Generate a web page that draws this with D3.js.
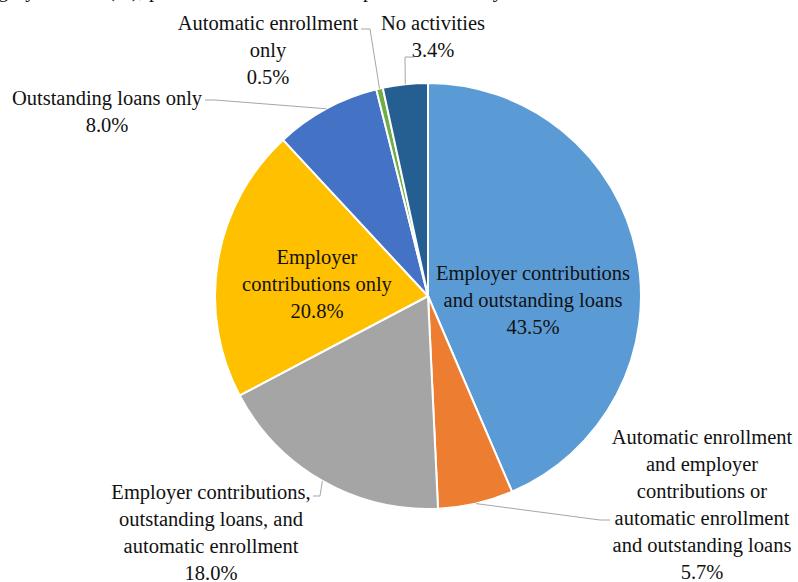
<!DOCTYPE html>
<html>
<head>
<meta charset="utf-8">
<script src="https://cdn.jsdelivr.net/npm/d3@7"></script>
<style>
  html, body { margin: 0; padding: 0; background: #fff; }
  svg { display: block; }
</style>
</head>
<body>
<svg id="chart" width="798" height="582"></svg>
<script>
// Share of plans by combination of plan activities (percent)
const categories = [
  "Employer contributions and outstanding loans",
  "Automatic enrollment and employer contributions or automatic enrollment and outstanding loans",
  "Employer contributions, outstanding loans, and automatic enrollment",
  "Employer contributions only",
  "Outstanding loans only",
  "Automatic enrollment only",
  "No activities"
];
const shares = [43.5, 5.7, 18.0, 20.8, 8.0, 0.5, 3.4];

// Wrapped label lines for each category
const labelLines = [
  ["Employer contributions", "and outstanding loans"],
  ["Automatic enrollment", "and employer", "contributions or", "automatic enrollment", "and outstanding loans"],
  ["Employer contributions,", "outstanding loans, and", "automatic enrollment"],
  ["Employer", "contributions only"],
  ["Outstanding loans only"],
  ["Automatic enrollment", "only"],
  ["No activities"]
];

const sliceColors = ["#5B9BD5", "#ED7D31", "#A5A5A5", "#FFC000", "#4472C4", "#70AD47", "#255E91"];

// Label placement: centre x, first-line centre y, optional leader path (elbow points after the slice edge)
const labelLayout = [
  { x: 533, y: 273, leader: null },
  { x: 702, y: 437, leader: [[600, 520], [610, 520]] },
  { x: 211, y: 492, leader: [[320, 496], [313, 496]] },
  { x: 317, y: 257, leader: null },
  { x: 107, y: 98,  leader: [[215, 100], [205, 100]] },
  { x: 268, y: 23,  leader: [[370, 29], [361, 29]] },
  { x: 433, y: 23,  leader: [[405, 57], [414, 57]] }
];

const width = 798, height = 582;
const cx = 428, cy = 296, radius = 213;
const lineHeight = 27;
const fontSize = 20.5;
const fontFamily = "'Liberation Serif', 'Times New Roman', Tinos, 'DejaVu Serif', serif";

const svg = d3.select("#chart")
  .attr("font-family", fontFamily)
  .style("font-family", fontFamily);

// Caption line above the chart, running off the top edge of the page
svg.append("text")
  .attr("x", -2)
  .attr("y", -3)
  .attr("font-size", fontSize)
  .attr("fill", "#111")
  .text("gory in 2019 (%), plans that had each of the plan activities by");

const pie = d3.pie().sort(null).value(d => d)(shares);
const arc = d3.arc().innerRadius(0).outerRadius(radius);
const edge = d3.arc().innerRadius(radius).outerRadius(radius);

const g = svg.append("g").attr("transform", `translate(${cx},${cy})`);

g.selectAll("path.slice")
  .data(pie)
  .join("path")
  .attr("class", "slice")
  .attr("d", arc)
  .attr("fill", (d, i) => sliceColors[i])
  .attr("stroke", "#fff")
  .attr("stroke-width", 2)
  .attr("stroke-linejoin", "round");

// Leader lines from slice edge to the outside labels
const line = d3.line();
pie.forEach((d, i) => {
  const lay = labelLayout[i];
  if (!lay.leader) return;
  const [ex, ey] = edge.centroid(d);
  const pts = [[cx + ex, cy + ey], ...lay.leader];
  svg.append("path")
    .attr("d", line(pts))
    .attr("fill", "none")
    .attr("stroke", "#A6A6A6")
    .attr("stroke-width", 1);
});

// Labels: category lines followed by the value
const fmt = d3.format(".1f");
pie.forEach((d, i) => {
  const lay = labelLayout[i];
  const lines = labelLines[i].concat([fmt(d.data) + "%"]);
  const t = svg.append("text")
    .attr("text-anchor", "middle")
    .attr("font-size", fontSize)
    .attr("fill", "#111");
  lines.forEach((s, k) => {
    t.append("tspan")
      .attr("x", lay.x)
      .attr("y", lay.y + k * lineHeight)
      .attr("dy", "0.35em")
      .text(s);
  });
});
</script>
</body>
</html>
